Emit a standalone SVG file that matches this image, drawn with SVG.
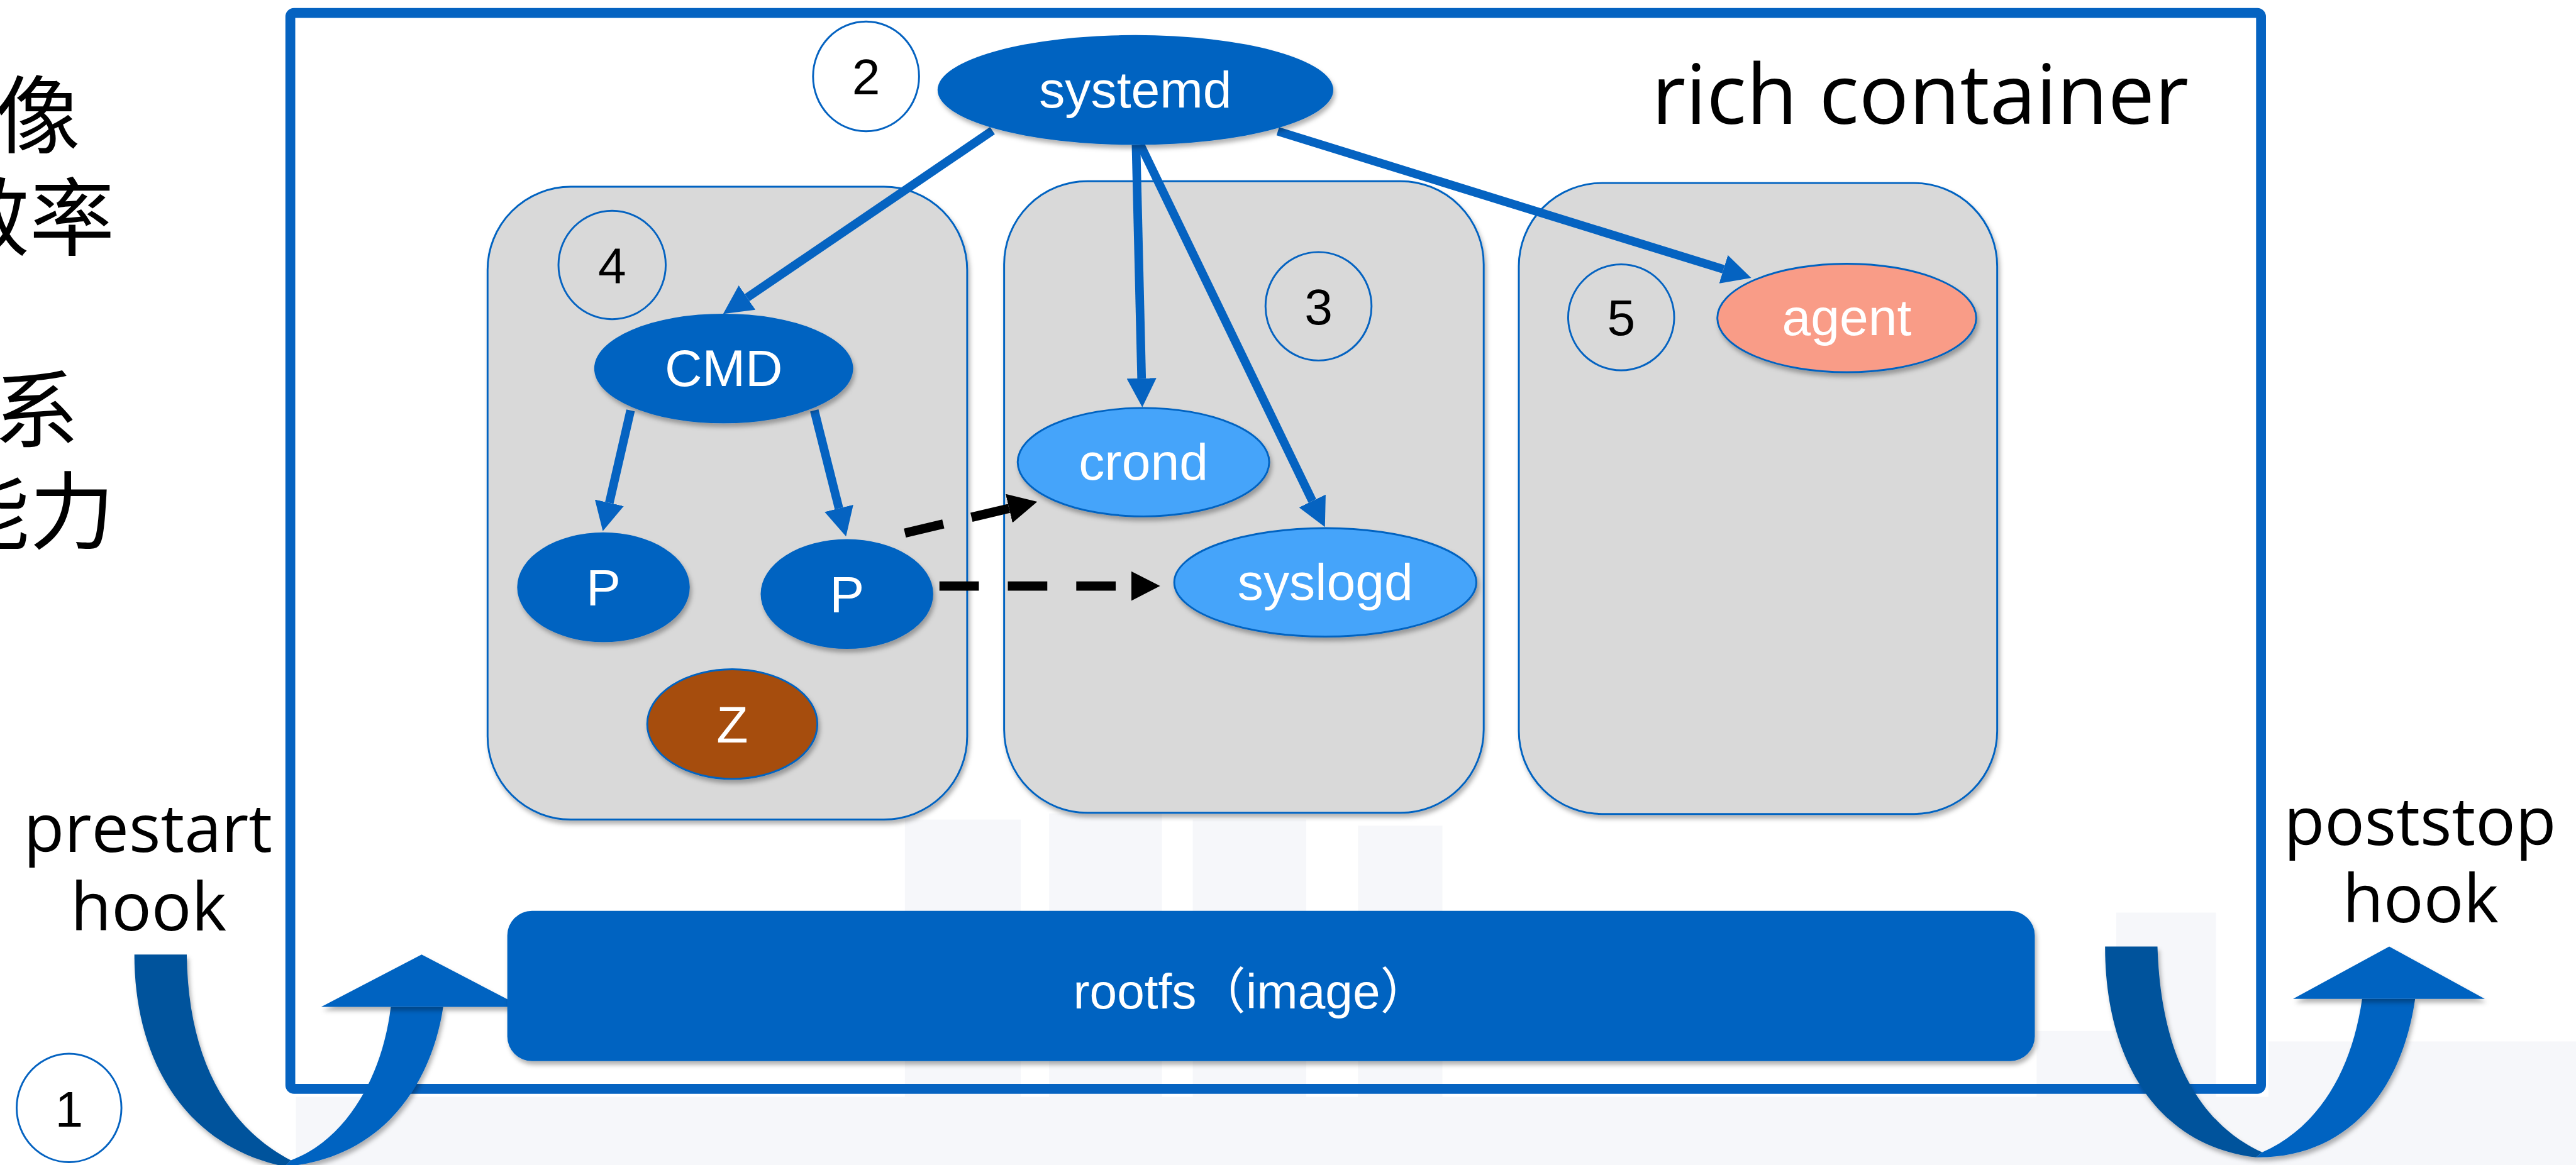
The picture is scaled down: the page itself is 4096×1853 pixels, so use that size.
<svg xmlns="http://www.w3.org/2000/svg" width="4096" height="1853" viewBox="0 0 4096 1853">
<defs>
<style>
.lbl{font-family:"Liberation Sans",Arial,sans-serif;font-size:84px;fill:#fff;text-anchor:middle}
.num{font-family:"Liberation Sans",Arial,sans-serif;font-size:82px;fill:#000;text-anchor:middle}
.big{font-family:"Open Sans","Liberation Sans",sans-serif;fill:#000;text-anchor:middle}
.cjk{font-family:"Noto Sans CJK SC",sans-serif;font-size:138px;fill:#000}
.panel{fill:#d9d9d9;stroke:#0563c1;stroke-width:3}
.circ{fill:none;stroke:#0563c1;stroke-width:3}
.blue{fill:#0563c1}
.edge{stroke:#0563c1;stroke-width:14;fill:none}
.dash{stroke:#000;stroke-width:15;fill:none;stroke-dasharray:64 47}
.bg{fill:#f6f7fa}
</style>
<filter id="sh" x="-20%" y="-20%" width="140%" height="150%">
<feDropShadow dx="3" dy="6" stdDeviation="4" flood-color="#000" flood-opacity="0.3"/>
</filter>
<marker id="ab" viewBox="0 0 47 48" refX="0" refY="24" markerWidth="47" markerHeight="48" markerUnits="userSpaceOnUse" orient="auto">
<path d="M0,0 L47,24 L0,48 z" fill="#0563c1"/>
</marker>
<marker id="ak" viewBox="0 0 47 48" refX="0" refY="24" markerWidth="47" markerHeight="48" markerUnits="userSpaceOnUse" orient="auto">
<path d="M0,0 L47,24 L0,48 z" fill="#000"/>
</marker>
</defs>
<rect width="4096" height="1853" fill="#fff"/>
<g transform="scale(0.98014)">
<g id="background">
<rect class="bg" x="1468" y="1330" width="188" height="561"/>
<rect class="bg" x="1702" y="1320" width="183" height="571"/>
<rect class="bg" x="1935" y="1330" width="184" height="561"/>
<rect class="bg" x="2203" y="1340" width="137" height="551"/>
<rect class="bg" x="3433" y="1481" width="162" height="410"/>
<rect class="bg" x="480" y="1780" width="3200" height="111"/>
<rect class="bg" x="3304" y="1673" width="129" height="218"/>
<rect class="bg" x="3680" y="1690" width="499" height="201"/>
</g>
<g id="side-text">
<text class="cjk" x="-8" y="238">像</text>
<text class="cjk" x="-90" y="404">效率</text>
<text class="cjk" x="-10" y="716">系</text>
<text class="cjk" x="-90" y="880">能力</text>
</g>
<g id="rich-container">
<rect x="471" y="21" width="3197" height="1746" rx="6" fill="none" stroke="#0563c1" stroke-width="16"/>
<text class="big" x="3115" y="201" font-size="135">rich container</text>
</g>
<g id="panel-4"><rect class="panel" x="791" y="303" width="778" height="1027" rx="135" filter="url(#sh)"/></g>
<g id="panel-3"><rect class="panel" x="1629" y="294" width="778" height="1025" rx="135" filter="url(#sh)"/></g>
<g id="panel-5"><rect class="panel" x="2464" y="297" width="776" height="1024" rx="135" filter="url(#sh)"/></g>
<g id="prestart-hook">
<text class="big" x="240" y="1382" font-size="108">prestart</text>
<text class="big" x="241" y="1510" font-size="108">hook</text>
<path d="M218,1549 C218,1720 300,1860 462,1893 L472,1883 C370,1830 305,1720 303,1549 Z" fill="#04529c" filter="url(#sh)"/>
<path d="M462,1893 C620,1880 700,1760 719,1634 L634,1634 C620,1750 560,1850 472,1883 Z" class="blue" filter="url(#sh)"/>
<polygon points="684,1549 521,1634 847,1634" class="blue" filter="url(#sh)"/>
</g>
<g id="poststop-hook">
<text class="big" x="3926" y="1371" font-size="108">poststop</text>
<text class="big" x="3927" y="1497" font-size="108">hook</text>
<path d="M3415,1536 C3415,1720 3500,1860 3660,1878 L3670,1870 C3560,1820 3505,1700 3500,1536 Z" fill="#04529c" filter="url(#sh)"/>
<path d="M3660,1878 C3800,1880 3895,1780 3918,1621 L3832,1621 C3815,1740 3760,1830 3670,1870 Z" class="blue" filter="url(#sh)"/>
<polygon points="3876,1536 3720,1621 4031,1621" class="blue" filter="url(#sh)"/>
</g>
<g id="rootfs">
<rect x="823" y="1478" width="2478" height="244" rx="40" class="blue" filter="url(#sh)"/>
<text class="lbl" x="2030" y="1637" style="font-family:'Liberation Sans','Noto Sans CJK SC',sans-serif;font-size:80px">rootfs（image）</text>
</g>
<g id="connectors">
<path class="edge" d="M1610,212 L1212,483" marker-end="url(#ab)"/>
<path class="edge" d="M1843,235 L1852,614" marker-end="url(#ab)"/>
<path class="edge" d="M1850,235 L2129,813" marker-end="url(#ab)"/>
<path class="edge" d="M2073,213 L2796,437" marker-end="url(#ab)"/>
<path class="edge" d="M1023,666 L988.5,816" marker-end="url(#ab)"/>
<path class="edge" d="M1321,666 L1361,825" marker-end="url(#ab)"/>
<path class="dash" d="M1468,865 L1637,825" marker-end="url(#ak)"/>
<path class="dash" d="M1524,951 L1835,951" marker-end="url(#ak)"/>
</g>
<g id="n1"><ellipse class="circ" cx="112" cy="1798" rx="85" ry="88"/><text class="num" x="112" y="1828">1</text></g>
<g id="n2"><ellipse class="circ" cx="1405" cy="124" rx="86" ry="89"/><text class="num" x="1405" y="153">2</text></g>
<g id="n3"><ellipse class="circ" cx="2139" cy="497" rx="86" ry="88"/><text class="num" x="2139" y="526">3</text></g>
<g id="n4"><ellipse class="circ" cx="993" cy="430" rx="87" ry="88"/><text class="num" x="993" y="459">4</text></g>
<g id="n5"><ellipse class="circ" cx="2630" cy="515" rx="86" ry="86"/><text class="num" x="2630" y="544">5</text></g>
<g id="systemd"><ellipse cx="1842" cy="146" rx="321" ry="89" class="blue" filter="url(#sh)"/><text class="lbl" x="1842" y="174">systemd</text></g>
<g id="cmd"><ellipse cx="1174" cy="598" rx="210" ry="89" class="blue" filter="url(#sh)"/><text class="lbl" x="1174" y="626">CMD</text></g>
<g id="p1"><ellipse cx="979" cy="953" rx="140" ry="89" class="blue" filter="url(#sh)"/><text class="lbl" x="979" y="983">P</text></g>
<g id="p2"><ellipse cx="1374" cy="964" rx="140" ry="89" class="blue" filter="url(#sh)"/><text class="lbl" x="1374" y="994">P</text></g>
<g id="z"><ellipse cx="1188" cy="1175" rx="138" ry="89" fill="#a64d0b" stroke="#0563c1" stroke-width="3" filter="url(#sh)"/><text class="lbl" x="1188" y="1205">Z</text></g>
<g id="crond"><ellipse cx="1855" cy="750" rx="204" ry="88" fill="#45a4fa" stroke="#0563c1" stroke-width="3" filter="url(#sh)"/><text class="lbl" x="1855" y="778">crond</text></g>
<g id="syslogd"><ellipse cx="2150" cy="945" rx="245" ry="88" fill="#45a4fa" stroke="#0563c1" stroke-width="3" filter="url(#sh)"/><text class="lbl" x="2150" y="973">syslogd</text></g>
<g id="agent"><ellipse cx="2996" cy="516" rx="210" ry="88" fill="#f99c87" stroke="#0563c1" stroke-width="3" filter="url(#sh)"/><text class="lbl" x="2996" y="544">agent</text></g>
</g>
</svg>
